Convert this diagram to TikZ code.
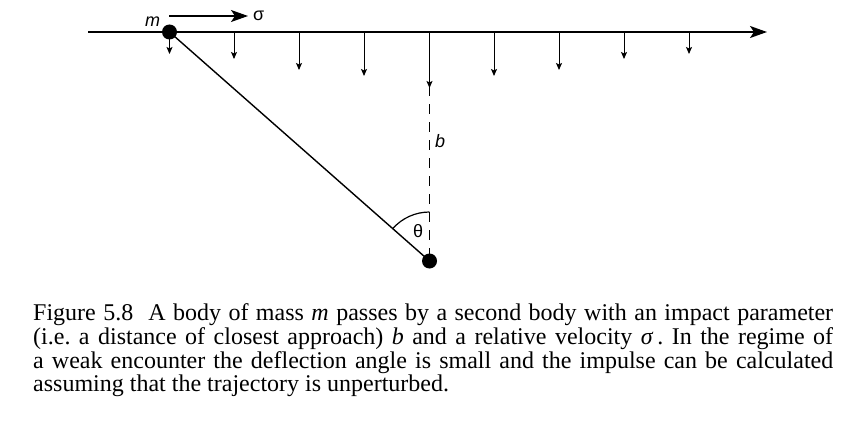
\documentclass[tikz,border=0pt]{standalone}
\usepackage{fontspec}
\setmainfont{Liberation Serif}
\newfontfamily\labfont{Liberation Sans}
\usetikzlibrary{arrows.meta}
\begin{document}
\begin{tikzpicture}[x=1pt,y=-1pt,
  axisline/.style={line width=1.6pt,-{Stealth[length=17pt,width=12pt,inset=4pt]}},
  velarrow/.style={line width=1.3pt,-{Stealth[length=17pt,width=12pt,inset=4pt]}},
  forcearrow/.style={line width=0.9pt,-{Stealth[length=7pt,width=6pt,inset=1.5pt]}},
  body/.style={circle,fill=black,inner sep=0pt,minimum size=15pt},
  lab/.style={font=\labfont\fontsize{18}{18}\selectfont,inner sep=0pt,anchor=base west},
  captext/.style={font=\fontsize{24}{24}\selectfont\frenchspacing,inner sep=0pt,anchor=base west}]
\useasboundingbox (0,0) rectangle (856,420);
% axis
\coordinate (axs) at (88,32);
\coordinate (axe) at (767,32);
\draw[axisline] (axs) -- (axe);
% force arrows
\foreach \i/\x/\y in {1/169.5/54,2/234/59,3/299/70,4/364/76,5/429.5/88,6/494/76,7/559/70,8/624/59,9/689/54}{
  \coordinate (fs\i) at (\x,32);
  \coordinate (fe\i) at (\x,\y);
  \draw[forcearrow] (fs\i) -- (fe\i);
}
% bodies
\node[body] (m) at (169.5,32) {};
\node[body] (M) at (429.5,261) {};
% lines
\draw[line width=1.4pt] (m.center) -- (M.center);
\draw[line width=1.3pt,dash pattern=on 10pt off 8pt] (fs5) -- (M.center);
\coordinate (arcs) at (429.5,212);
\draw[line width=1.2pt] (arcs) arc[start angle=-90,end angle=-138.6,radius=49];
% velocity
\coordinate (vs) at (169,16);
\coordinate (ve) at (248,16);
\draw[velarrow] (vs) -- (ve);
% labels
\node[lab] (lm) at (145,27) {\itshape m};
\node[lab] (ls) at (253,21) {σ};
\node[lab] (lb) at (435,147) {\itshape b};
\node[lab] (lt) at (413,237) {θ};
% caption
\node[captext] (cap1) at (33,320.5) {\makebox[800pt][s]{Figure 5.8\ \ A body of mass \textit{m} passes by a second body with an impact parameter}};
\node[captext] (cap2) at (33,344) {\makebox[800pt][s]{(i.e. a distance of closest approach) \textit{b} and a relative velocity \textit{σ}\,. In the regime of}};
\node[captext] (cap3) at (33,368) {\makebox[800pt][s]{a weak encounter the deflection angle is small and the impulse can be calculated}};
\node[captext] (cap4) at (33,391.5) {assuming that the trajectory is unperturbed.};
\end{tikzpicture}
\end{document}
